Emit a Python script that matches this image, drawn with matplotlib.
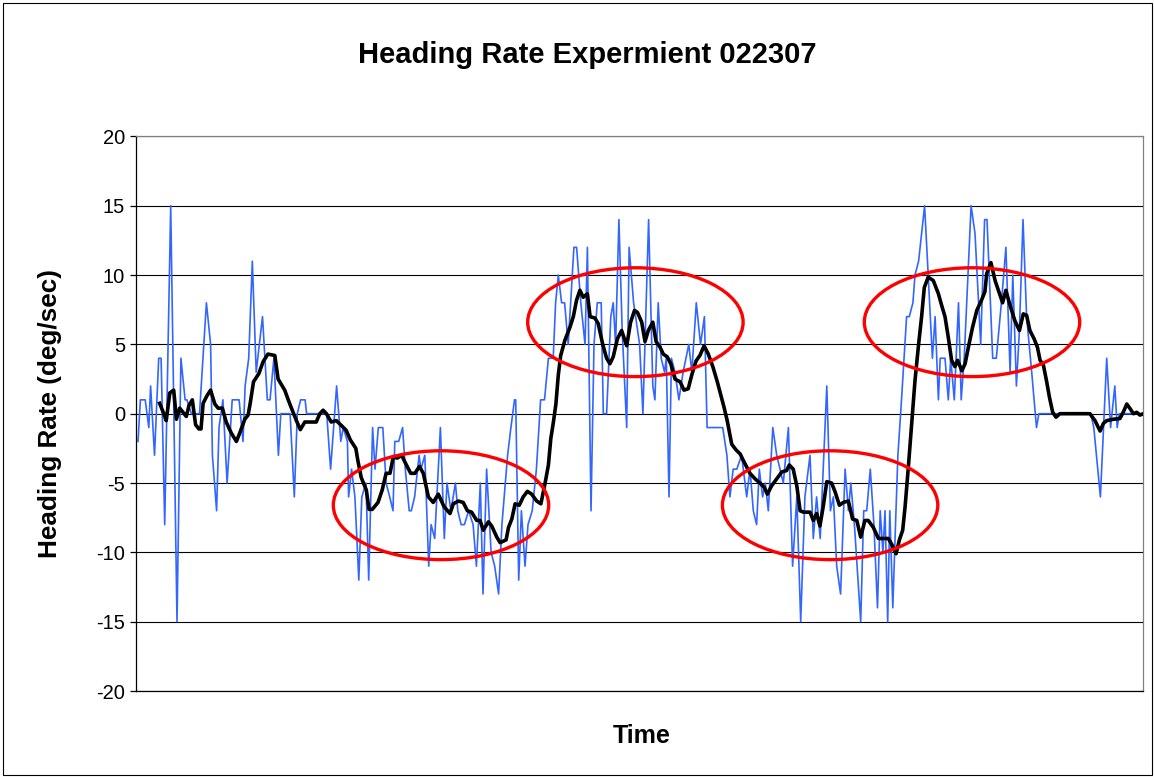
import matplotlib
matplotlib.use("Agg")
import matplotlib.pyplot as plt
from matplotlib.patches import Ellipse, Rectangle

plt.rcParams['font.family'] = ['Liberation Sans', 'DejaVu Sans']
plt.rcParams['axes.unicode_minus'] = False

title = "Heading Rate Expermient 022307"
y_label = "Heading Rate (deg/sec)"
x_label = "Time"
y_ticks = [-20, -15, -10, -5, 0, 5, 10, 15, 20]

# raw heading rate (time in sample units, deg/sec)
raw_time = [1.0, 1.8, 3.4, 4.6, 5.2, 6.5, 7.9, 8.7, 9.9, 11.9, 14.0, 15.3, 16.7, 17.3, 18.8, 21.5, 23.8, 25.2, 25.8, 27.2,
            28.0, 29.3, 30.7, 32.4, 34.7, 36.0, 36.7, 37.9, 39.1, 40.4, 42.5, 44.1, 45.0, 46.3, 47.8, 48.6, 51.7, 53.1, 54.1, 55.2,
            56.7, 57.2, 63.9, 65.2, 67.2, 68.6, 69.4, 70.8, 71.2, 72.2, 73.3, 74.6, 75.6, 77.0, 77.9, 79.2, 80.0, 81.1, 82.6, 83.7,
            84.9, 86.0, 86.6, 87.9, 89.2, 90.1, 91.4, 92.1, 93.2, 94.7, 95.3, 96.6, 97.9, 98.7, 99.9, 101.8, 103.1, 104.0, 105.3, 106.8,
            107.6, 108.7, 109.8, 111.2, 112.7, 113.8, 115.1, 116.0, 117.2, 118.7, 119.9, 121.2, 122.3, 124.2, 125.3, 126.5, 126.9, 127.9, 128.8, 130.0,
            131.0, 132.4, 133.8, 135.2, 136.5, 137.8, 139.4, 140.2, 141.1, 142.2, 143.2, 144.4, 145.2, 146.3, 147.2, 148.6, 150.0, 150.8, 152.0, 153.0,
            154.1, 155.4, 156.1, 157.2, 158.6, 159.4, 160.2, 161.3, 162.4, 163.9, 164.7, 166.2, 168.2, 169.3, 171.2, 172.6, 173.3, 174.4, 175.4, 176.5,
            177.1, 178.0, 178.8, 180.0, 181.3, 182.7, 184.6, 185.6, 187.1, 188.5, 189.8, 190.7, 195.9, 197.3, 198.3, 199.4, 200.6, 202.2, 203.9, 205.0,
            206.1, 207.2, 208.1, 209.2, 210.1, 211.1, 212.6, 213.9, 215.0, 216.1, 217.8, 219.2, 220.6, 221.9, 223.3, 225.0, 226.1, 227.2, 228.4, 230.6,
            231.8, 232.8, 233.9, 235.2, 236.7, 237.8, 238.6, 239.8, 241.9, 242.9, 243.9, 245.1, 246.3, 247.5, 248.4, 249.3, 250.0, 250.9, 251.6, 252.6,
            253.5, 254.3, 255.5, 257.2, 258.1, 259.3, 260.0, 261.2, 263.2, 264.4, 265.8, 266.7, 267.8, 268.4, 270.0, 271.1, 271.9, 273.1, 274.5, 275.4,
            276.4, 278.7, 280.0, 281.9, 283.2, 284.0, 285.9, 287.1, 288.8, 290.3, 291.7, 292.6, 293.8, 294.8, 296.0, 297.2, 298.9, 300.5, 301.3, 318.6,
            319.6, 321.8, 323.9, 325.2, 326.6, 327.4, 328.1, 336.1]
raw_rate = [-2, 1, 1, -1, 2, -3, 4, 4, -8, 15, -15, 4, 1, 1, 0, 0, 8, 5, -3, -7,
            -1, 1, -5, 1, 1, -2, 2, 4, 11, 3, 7, 1, 1, 4, -3, 0, 0, -6, 0, 1,
            1, 0, 0, -4, 2, -2, -1, -2, -6, -4, -6, -12, -6, -5, -12, -1, -4, -1, -1, -5,
            -6, -7, -2, -2, -1, -4, -7, -7, -6, -3, -4, -3, -11, -8, -9, -1, -9, -5, -7, -5,
            -7, -8, -8, -7, -8, -11, -5, -13, -4, -10, -11, -13, -8, -3, -1, 1, 1, -12, -7, -11,
            -8, -7, -4, 1, 1, 4, 4, 8, 10, 8, 8, 5, 8, 12, 12, 8, 5, 12, -7, 5,
            8, 8, 0, 0, 7, 8, 5, 14, 6, -1, 12, 8, 5, 0, 14, 2, 1, 8, 4, 3,
            4, -6, 4, 3, 1, 3, 5, 3, 8, 5, 7, -1, -1, -3, -6, -4, -4, -3, -6, -4,
            -7, -8, -4, -6, -5, -7, -1, -3, -4, -5, -1, -11, -6, -15, -6, -3, -9, -6, -9, 2,
            -7, -6, -11, -13, -4, -7, -5, -8, -15, -7, -7, -4, -8, -14, -7, -10, -7, -15, -7, -14,
            -8, -3, 1, 7, 7, 8, 10, 11, 15, 10, 4, 7, 1, 4, 4, 1, 4, 1, 8, 1,
            4, 15, 13, 5, 14, 14, 4, 4, 8, 12, 3, 10, 2, 6, 14, 7, 3, -1, 0, 0,
            -1, -6, 4, -1, 2, -1, 0, 0]

# smoothed heading rate (moving average curve as drawn)
avg_time = [8.2, 9.6, 10.4, 11.6, 12.9, 13.8, 14.9, 16.0, 17.1, 18.0, 19.1, 20.2, 21.3, 22.0, 22.7, 24.0, 25.2, 26.6, 27.7, 29.1,
            30.4, 32.1, 33.8, 34.9, 36.6, 37.7, 38.4, 39.5, 41.3, 42.7, 44.3, 46.6, 47.7, 49.9, 51.6, 53.8, 55.1, 56.6, 60.4, 61.6,
            62.7, 63.8, 65.4, 67.1, 68.8, 70.4, 71.8, 73.6, 74.3, 75.4, 77.1, 78.0, 79.1, 81.0, 82.4, 83.7, 85.0, 86.1, 87.4, 88.9,
            90.0, 91.9, 93.3, 94.8, 96.1, 97.8, 99.4, 101.1, 103.0, 105.0, 106.1, 107.8, 109.4, 110.8, 112.2, 113.9, 115.0, 116.1, 117.8, 118.9,
            120.6, 121.7, 123.7, 124.5, 125.6, 126.7, 128.1, 129.4, 130.8, 132.2, 133.9, 135.3, 136.7, 137.8, 138.6, 139.4, 140.3, 141.1, 141.9, 143.3,
            145.0, 146.1, 147.2, 148.3, 149.4, 150.8, 151.7, 153.3, 154.4, 155.9, 157.2, 158.3, 159.4, 160.8, 162.2, 163.9, 165.2, 166.5, 167.5, 168.9,
            170.0, 171.1, 172.6, 173.7, 175.0, 176.1, 177.4, 178.6, 180.0, 181.7, 183.0, 184.4, 185.6, 187.0, 188.3, 189.7, 191.1, 192.6, 194.1, 195.2,
            196.3, 197.4, 198.9, 200.3, 201.7, 203.3, 205.0, 206.7, 208.3, 209.7, 210.8, 212.2, 213.9, 215.6, 217.2, 218.1, 219.4, 220.6, 221.7, 222.8,
            225.0, 226.1, 227.2, 228.3, 229.4, 230.6, 232.2, 233.3, 234.8, 236.1, 237.8, 239.2, 240.6, 241.9, 243.3, 244.4, 246.1, 247.8, 251.1, 252.2,
            253.7, 254.8, 255.9, 256.7, 257.8, 258.9, 260.0, 261.1, 262.2, 263.1, 264.4, 266.1, 267.8, 268.9, 270.0, 271.1, 272.2, 273.3, 274.2, 275.6,
            276.7, 277.8, 279.2, 280.6, 282.2, 283.3, 283.9, 285.3, 286.7, 287.8, 289.2, 290.3, 291.7, 293.3, 294.8, 296.1, 297.2, 298.3, 299.7, 300.8,
            301.7, 302.8, 303.9, 304.8, 305.9, 307.0, 308.3, 318.3, 320.0, 321.7, 322.8, 323.9, 326.1, 328.3, 329.4, 330.6, 331.9, 332.8, 333.9, 335.0,
            336.1]
avg_rate = [0.75, 0, -0.5, 1.5, 1.7, -0.4, 0.4, 0.1, -0.2, 0.6, 1.0, -0.8, -1.1, -1.1, 0.75, 1.3, 1.7, 0.7, 0.4, 0.4,
            -0.6, -1.4, -2.0, -1.4, -0.4, -0.1, 0.75, 2.3, 2.9, 3.75, 4.3, 4.2, 2.5, 1.7, 0.7, -0.5, -1.15, -0.6, -0.6, 0,
            0.25, 0, -0.6, -0.5, -0.85, -1.2, -1.9, -2.5, -3.4, -4.6, -5.5, -6.9, -6.9, -6.4, -5.5, -4.3, -4.3, -3.1, -3.2, -3.0,
            -3.5, -4.3, -4.3, -3.8, -4.3, -6.0, -6.4, -5.8, -6.7, -7.2, -6.5, -6.3, -6.4, -7.0, -7.1, -7.7, -7.7, -8.4, -7.8, -8.1,
            -8.9, -9.3, -9.1, -8.2, -7.6, -6.5, -6.6, -6.0, -5.6, -5.8, -6.3, -6.5, -5.0, -3.7, -1.8, -0.7, 0.7, 2.8, 4.2, 5.3,
            6.25, 7.0, 8.2, 8.9, 8.4, 8.65, 7.0, 6.9, 6.5, 5.0, 4.0, 3.6, 4.1, 5.4, 6.0, 4.9, 6.6, 7.45, 7.3, 6.6,
            5.2, 6.0, 6.6, 5.2, 4.8, 4.3, 4.1, 3.6, 2.5, 2.3, 1.7, 1.8, 2.8, 3.8, 4.2, 4.9, 4.3, 3.4, 2.3, 1.4,
            0.5, -0.5, -2.2, -2.6, -2.9, -3.6, -4.3, -4.7, -5.0, -5.3, -5.8, -5.2, -4.7, -4.2, -4.1, -3.7, -4.0, -5.2, -7.0, -7.1,
            -7.1, -7.7, -7.2, -8.1, -6.7, -4.9, -5.0, -5.6, -6.6, -6.4, -6.3, -7.6, -7.7, -8.9, -7.7, -7.7, -8.2, -9.0, -9.0, -9.4,
            -10.1, -9.1, -8.4, -6.7, -3.8, -0.7, 2.4, 4.8, 7.0, 9.1, 9.85, 9.6, 8.65, 7.8, 7.0, 5.5, 3.85, 3.4, 3.85, 3.1,
            3.6, 4.8, 6.25, 7.45, 8.2, 8.8, 10.1, 10.9, 9.6, 8.9, 8.0, 8.9, 7.8, 6.7, 6.0, 7.2, 7.1, 6.0, 5.4, 4.8,
            3.85, 3.5, 2.3, 1.2, 0.1, -0.25, 0, 0, -0.5, -1.25, -0.7, -0.5, -0.4, -0.35, 0.1, 0.7, 0.3, 0, 0.1, -0.1,
            0]

# highlighted regions (centre time, centre rate)
region_time = [102.0, 166.8, 231.7, 279.0]
region_rate = [-6.6, 6.6, -6.6, 6.6]

fig = plt.figure(figsize=(11.54, 7.77), dpi=100)
fig.patches.append(Rectangle((2.5 / 1154, 2.5 / 777), 1 - 5 / 1154, 1 - 5 / 777,
                             transform=fig.transFigure, fill=False,
                             edgecolor='black', linewidth=0.8))

ax = fig.add_axes([136 / 1154, 1 - 691 / 777, (1143 - 136) / 1154, (691 - 136.4) / 777])
ax.set_xlim(0.33, 336.0)
ax.set_ylim(-20, 20)
ax.set_yticks(y_ticks)
ax.set_xticks([])
ax.grid(axis='y', color='black', linewidth=0.8)
ax.set_axisbelow(True)

ax.plot(raw_time, raw_rate, color='#3366FF', linewidth=1.2, zorder=2)
ax.plot(avg_time, avg_rate, color='black', linewidth=2.6, zorder=3, solid_joinstyle='round')

for t, r in zip(region_time, region_rate):
    ax.add_patch(Ellipse((t, r), 71.8, 7.85, fill=False, edgecolor='#FF0000',
                         linewidth=2.4, zorder=4))

for side in ['left', 'bottom']:
    ax.spines[side].set_color('black')
    ax.spines[side].set_linewidth(0.9)
for side in ['top', 'right']:
    ax.spines[side].set_color('#808080')
    ax.spines[side].set_linewidth(0.9)

ax.tick_params(axis='y', direction='out', length=4, width=0.9, pad=4, labelsize=14.5)

fig.text(587 / 1154, 1 - 55 / 777, title, ha='center', va='center',
         fontsize=21, fontweight='bold')
fig.text(50 / 1154, 1 - 414 / 777, y_label, ha='center', va='center',
         rotation=90, fontsize=18.8, fontweight='bold')
fig.text(642 / 1154, 1 - 736 / 777, x_label, ha='center', va='center',
         fontsize=18, fontweight='bold')

fig.savefig('out.png', dpi=100)
